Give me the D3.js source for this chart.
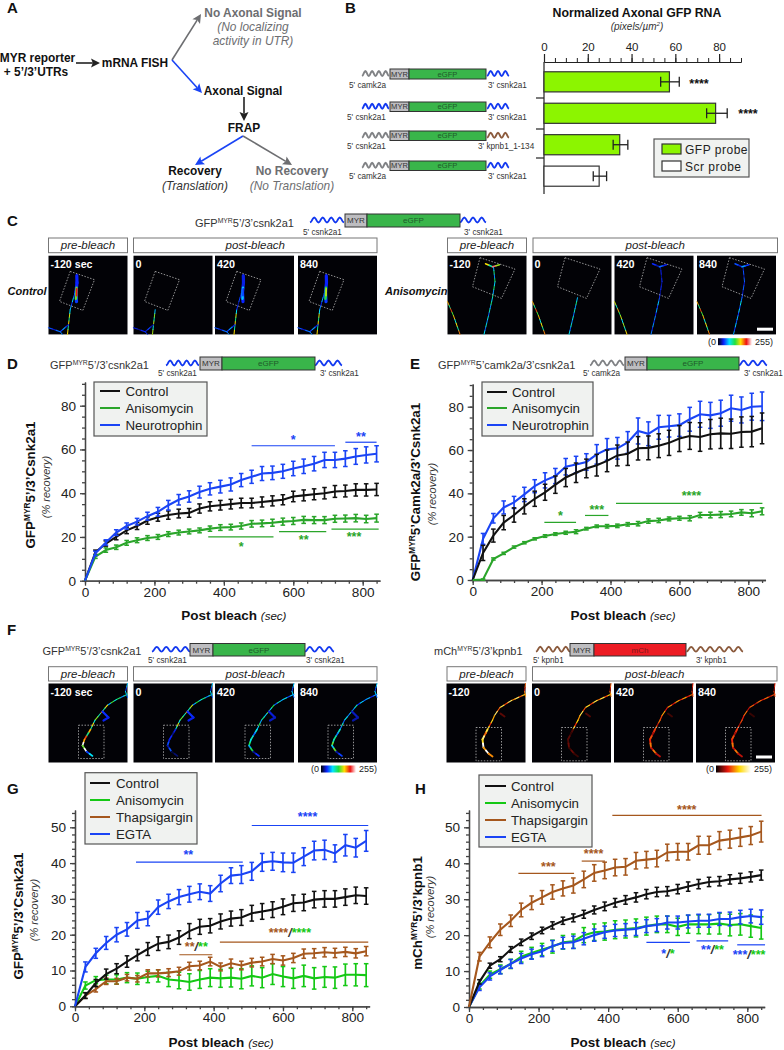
<!DOCTYPE html>
<html><head><meta charset="utf-8">
<script src="https://cdn.jsdelivr.net/npm/d3@7/dist/d3.min.js"></script>
<style>html,body{margin:0;padding:0;background:#fff}svg{display:block;font-family:"Liberation Sans",Arial,sans-serif}</style>
</head><body><svg id="c" width="784" height="1050"></svg>
<script>
// ---------- data ----------
const times=[0,30,60,90,120,150,180,210,240,270,300,330,360,390,420,450,480,510,540,570,600,630,660,690,720,750,780,810,840];
const bCategories=["camk2a/csnk2a1","csnk2a1/csnk2a1","csnk2a1/kpnb1","camk2a/csnk2a1 scr"];
const bValues=[57.3,78.4,34.6,25.2];
const bLow=[53.3,74.3,31.6,22.5];
const bHigh=[61.8,83.7,38.3,28.6];

const D_control=[0,13,17,20,23,25,27.5,29,30,30.7,31,33,34,34.5,35,35.5,35.5,36,36.5,37,38.5,39,39.5,40,40.8,41,41.5,41.5,41.7];
const D_control_err=[0,1,1.2,1.3,1.5,1.6,1.7,1.8,1.9,2,2,2.1,2.1,2.2,2.2,2.2,2.2,2.3,2.3,2.3,2.4,2.5,2.5,2.6,2.7,2.7,2.8,2.8,2.8];
const D_aniso=[0,11,14,15.3,17.3,18.5,19.5,20,21.3,22,22.5,23,23.8,24.3,24.5,25,26,26.2,26.5,27,27.3,27.8,27.7,27.7,28.3,28.4,28.6,28.2,28.6];
const D_aniso_err=[0,.8,1,1,1.1,1.1,1.1,1.1,1.1,1.1,1.1,1.1,1.2,1.3,1.3,1.4,1.5,1.5,1.6,1.6,1.6,1.6,1.6,1.6,1.6,1.6,1.7,1.7,1.8];
const D_neuro=[0,12.5,17.5,22,25,27,29.5,31.5,34.5,37,38.5,40.5,42,43,44,46,47.5,49,49.3,50,51.3,52.3,53.5,55.2,55.2,55.8,56.8,57.5,58];
const D_neuro_err=[0,1,1.2,1.3,1.4,1.5,1.8,2,2.2,2.4,2.6,2.7,2.8,2.9,3,3,3,3.2,3.1,3.2,3.3,3.3,3.3,3.5,3.5,3.6,3.6,3.7,3.7];

const E_control=[0,12.5,20.5,26.5,30,34,37.5,40.5,44,47.3,49.5,51.5,53,55,57.5,58.3,60.8,61,62,63.3,65.3,66.5,66,67.3,67.7,67.5,68.3,68.5,70];
const E_control_err=[0,3.5,3,3.3,3.3,3.5,3.5,3.7,4,4.2,4.5,4.3,5,5,4.8,5.4,5.4,5.5,5.5,5.8,6,6.2,6.6,6.8,7,6.8,7,7,7.1];
const E_aniso=[0,.2,9.7,12.3,15.2,17.2,19,20.3,21.2,21.8,22.3,23.7,24.8,24.8,25,25.7,26,27.2,27.5,28.2,28.5,28.5,30,30,30.2,30.5,31.2,30.8,31.7];
const E_aniso_err=[0,.3,.5,.5,.5,.5,.5,.6,.6,.7,.9,.6,.6,.8,.8,.8,1,1,1,.9,.9,1.2,1.2,1.3,1.4,1.3,1.3,1.6,1.6];
const E_neuro=[0,19,28.5,33.5,35.8,39.5,43.3,46,48,52.3,53.3,54.5,58,60.3,60.8,63.5,68.8,67.5,70.5,71,71.5,74.2,76.5,76,77,79.3,78.5,80,80.2];
const E_neuro_err=[0,2.5,2.2,3,2.8,3.3,3,3.5,3.5,3.8,3.8,3.8,4.5,5,5,5,6,5.5,5.5,5,5.2,5.5,6,6,6,6,6,6.2,6.6];

const G_control=[0,3,6.5,9,10.5,12.5,14.3,16,17.5,18,19.2,21,22.2,22.5,23.7,24.5,24.8,26,26.5,27,27.8,28.8,29,29.8,30,30,30.5,31,30.8];
const G_control_err=[0,.8,1,1.4,1.4,1.6,1.6,1.8,1.9,1.9,1.9,2.1,2.1,2,2.1,2.1,2.2,2.2,2.2,2.2,2.2,2.3,2.3,2.3,2.3,2.3,2.3,2.3,2.3];
const G_aniso=[0,5.8,7.3,7.5,7.5,8,7.7,8.2,8.5,7.5,7.2,6.8,7.5,8,7.8,8,7.7,8.5,8,9,8.3,7.8,8.5,7.8,8.2,8,8.8,8.8,8.7];
const G_aniso_err=[0,1,1,1.2,1.3,1.4,1.6,1.6,1.7,2,2.3,2.3,2.5,2.5,2.5,2.6,2.8,2.8,2.8,2.9,2.8,2.8,3,3,2.9,3,3,3.1,3.2];
const G_thaps=[0,3,4.8,7,7,8,7.7,9.2,9.2,9.4,9.8,11.2,11.4,12.5,11,12,11.4,12.2,12.5,13.2,12.8,13.5,14.7,14.8,15.1,14.9,15.2,14.8,15.4];
const G_thaps_err=[0,.8,.8,.9,.8,.9,.9,1,1,1.1,1.1,1.1,1.2,1.2,1.1,1.2,1.2,1.2,1.2,1.3,1.3,1.3,1.3,1.3,1.3,1.3,1.3,1.3,1.3];
const G_egta=[0,11,14.8,17.7,20,21.5,24,24.5,27.7,29.3,30.5,31.3,32,31.5,34.3,36.5,36.8,37.7,40.2,40.5,40.2,40.1,41.8,43.5,43.7,42.7,45,44.3,46.2];
const G_egta_err=[0,1.4,1.4,1.8,2,1.9,2.2,2,2,2,2.1,2.2,2.2,2.2,2.3,2.2,2.5,2.5,2.5,2.5,2.6,2.7,2.5,2.6,2.7,2.4,3,2.6,2.9];

const H_control=[0,7,11.5,13.3,16,18,19.7,21.3,22.7,24,24.8,25.8,27,28,29,29.8,30.5,31.4,32,32.2,32.8,33.5,34.2,34.8,35,35.5,35.8,36.2,36.7];
const H_control_err=[0,.6,.7,.7,.8,.9,.9,.9,1,1,1.1,1.1,1.1,1.2,1.2,1.2,1.3,1.3,1.3,1.3,1.3,1.3,1.3,1.3,1.3,1.3,1.4,1.4,1.4];
const H_aniso=[0,5.8,9,10.5,12,14,15,16,16.8,18,18.3,20,20.8,21,21.5,21.7,22,22.5,23,23,22.3,23,23,23,23.2,22.8,23,22.5,22];
const H_aniso_err=[0,.8,1,1.2,1.3,1.5,1.6,1.7,1.8,1.9,2,2.1,2.3,2.4,2.5,2.5,2.5,2.5,2.3,2.3,2.4,2.5,2.6,2.7,2.9,3,3,3.1,3.1];
const H_thaps=[0,14,18,21.5,24,27,29,30.5,32,33,33.8,35.5,37.3,38,38.8,39,40.7,41,41.3,43,43.2,43.2,45,45,46.3,46.7,47.2,47.7,48.8];
const H_thaps_err=[0,1.2,1.5,1.6,1.6,1.9,1.9,1.9,2,2.1,2.1,2.3,2.3,2.3,2.3,2.3,2.3,2.3,2.3,2.3,2.3,2.3,2.5,2.5,2.5,2.5,2.5,2.5,2.9];
const H_egta=[0,5.5,8.5,10.3,12,13.5,14.7,15.5,17,17.8,18,19,20,20.8,21.3,21.5,21.7,22.5,22.8,23.5,23.5,23.8,24,24,24.5,24.5,25,25.3,25];
const H_egta_err=[0,.9,1,1.1,1.2,1.4,1.4,1.5,1.5,1.6,1.7,1.7,1.7,1.7,1.7,1.7,1.8,1.8,1.8,1.8,1.8,1.8,1.8,1.8,1.8,1.9,1.9,1.9,2];

const frameLabelsL=["-120 sec","0","420","840"];
const frameLabelsR=["-120","0","420","840"];
// ---------- palette ----------
const BLACK="#111",GREY="#6d6e71",BLUE="#1a44f5",BROWN="#a5571d",GRN1="#2aa52a",GRN2="#14c814";
const WGREY="#808285",WBLUE="#1238f0",WBROWN="#8b5a3c";
const FONT_TXT="#222";
const svg=d3.select("#c");
const defs=svg.append("defs");

function rich(g,x,y,parts,o={}){
  const t=g.append("text").attr("x",x).attr("y",y).attr("font-size",o.size||12)
    .attr("text-anchor",o.anchor||"start").attr("fill",o.fill||FONT_TXT);
  if(o.weight)t.attr("font-weight",o.weight);
  if(o.style)t.attr("font-style",o.style);
  if(o.rotate)t.attr("transform",`rotate(${o.rotate} ${x} ${y})`);
  let pendingDy=0;
  parts.forEach(p=>{
    if(typeof p==="string")p={t:p};
    const s=t.append("tspan").text(p.t);
    if(p.sup){s.attr("font-size",(o.size||12)*.62).attr("dy",-(o.size||12)*.36);pendingDy=(o.size||12)*.36;}
    else if(pendingDy){s.attr("dy",pendingDy);pendingDy=0;}
    if(p.fill)s.attr("fill",p.fill);
    if(p.style)s.attr("font-style",p.style);
    if(p.weight)s.attr("font-weight",p.weight);
  });
  return t;
}
function wave(g,x0,x1,yc,amp,periods,color){
  const n=Math.round(periods*12);
  const xs=d3.scaleLinear().domain([0,n]).range([x0,x1]);
  const pts=d3.range(n+1).map(i=>[xs(i),yc-amp*Math.sin(i/12*2*Math.PI-Math.PI/2)]);
  g.append("path").attr("d",d3.line()(pts)).attr("fill","none").attr("stroke",color).attr("stroke-width",1.8);
}
function construct(g,c){
  const h=c.y1-c.y0,yc=(c.y0+c.y1)/2;
  wave(g,c.wl[0],c.wl[1],yc-0.5,2.4,c.wl[3]||4,c.wl[2]);
  wave(g,c.wr[0],c.wr[1],yc-0.5,2.4,c.wr[3]||3,c.wr[2]);
  g.append("rect").attr("x",c.m0).attr("y",c.y0).attr("width",c.m1-c.m0).attr("height",h).attr("fill","#bdbdc0").attr("stroke","#333").attr("stroke-width",1);
  g.append("rect").attr("x",c.m1).attr("y",c.y0).attr("width",c.e-c.m1).attr("height",h).attr("fill",c.color||"#39b54a").attr("stroke","#333").attr("stroke-width",1);
  const fs=c.fs||8.2;
  g.append("text").attr("x",(c.m0+c.m1)/2).attr("y",yc+fs*.36).attr("text-anchor","middle").attr("font-size",fs).attr("fill","#333").text("MYR");
  g.append("text").attr("x",(c.m1+c.e)/2).attr("y",yc+fs*.36).attr("text-anchor","middle").attr("font-size",fs).attr("fill",c.gfill||"#1f5a2b").text(c.gene||"eGFP");
  g.append("text").attr("x",c.ll[0]).attr("y",c.ly).attr("font-size",c.lfs||8).attr("fill","#333").text(c.ll[1]);
  g.append("text").attr("x",c.lr[0]).attr("y",c.ly).attr("font-size",c.lfs||8).attr("fill","#333").text(c.lr[1]);
}
function letter(t,x,y){svg.append("text").attr("x",x).attr("y",y).attr("font-size",15).attr("font-weight","bold").attr("fill","#111").text(t);}

// ---------- panel letters ----------
letter("A",7,13);letter("B",345,13);letter("C",7,226);letter("D",7,369);letter("E",410,369);letter("F",7,635);letter("G",7,794);letter("H",415,794);

// ---------- A ----------
function arrow(g,x0,y0,x1,y1,color){
  const a=Math.atan2(y1-y0,x1-x0),L=9,W=4.5;
  const bx=x1-L*Math.cos(a)*.8,by=y1-L*Math.sin(a)*.8;
  g.append("line").attr("x1",x0).attr("y1",y0).attr("x2",bx).attr("y2",by).attr("stroke",color).attr("stroke-width",1.6);
  const p=[[x1,y1],[x1-L*Math.cos(a)-W*Math.sin(a),y1-L*Math.sin(a)+W*Math.cos(a)],[bx,by],[x1-L*Math.cos(a)+W*Math.sin(a),y1-L*Math.sin(a)-W*Math.cos(a)]];
  g.append("path").attr("d",d3.line()(p)+"Z").attr("fill",color);
}
{
const g=svg.append("g");
const T=(t,x,y,o={})=>g.append("text").attr("x",x).attr("y",y).attr("font-size",o.s||11.9).attr("text-anchor",o.a||"middle").attr("font-weight",o.i?null:"bold").attr("font-style",o.i?"italic":null).attr("fill",o.f||"#111").text(t);
T("MYR reporter",37.5,61.5);T("+ 5’/3’UTRs",36,76);T("mRNA FISH",135,67);
T("No Axonal Signal",253,17,{f:"#6d6e71"});T("(No localizing",253,31,{i:1,f:"#6d6e71"});T("activity in UTR)",253,45,{i:1,f:"#6d6e71"});
T("Axonal Signal",243,95);T("FRAP",244,132);
T("Recovery",195,175);T("(Translation)",195,190,{i:1,f:"#333"});
T("No Recovery",292,175,{f:"#6d6e71"});T("(No Translation)",292,190,{i:1,f:"#6d6e71"});
arrow(g,76,63,100,63,"#222");arrow(g,172,60,201,14,GREY);arrow(g,172,60,202,93,BLUE);
arrow(g,244,97,244,121,"#222");arrow(g,243,136,195,165,BLUE);arrow(g,243,136,292,165,GREY);
}

// ---------- B ----------
{
const g=svg.append("g");
const x=d3.scaleLinear().domain([0,90]).range([544,741]);
const barY=d3.scaleBand().domain(bCategories).range([68,190]).paddingInner(0.36).paddingOuter(0.12);
g.append("text").attr("x",637).attr("y",17).attr("text-anchor","middle").attr("font-weight","bold").attr("font-size",12.3).attr("fill","#111").text("Normalized Axonal GFP RNA");
rich(g,637,30,[{t:"(pixels/µm"},{t:"2",sup:1},{t:")"}],{anchor:"middle",style:"italic",size:10,fill:"#333"});
const axT=g.append("g").attr("transform","translate(0,62)").call(d3.axisTop(x).tickValues([0,20,40,60,80]).tickSize(8).tickSizeOuter(0).tickPadding(3));
axT.selectAll("text").attr("font-size",11.5).attr("font-family","inherit").attr("fill","#222");
axT.selectAll("path,line").attr("stroke","#222").attr("stroke-width",1.2);
const axM=g.append("g").attr("transform","translate(0,62)").call(d3.axisTop(x).tickValues(d3.range(0,91,5)).tickSize(4).tickFormat("").tickSizeOuter(0));
axM.selectAll("path,line").attr("stroke","#222").attr("stroke-width",1);
g.append("line").attr("x1",544).attr("x2",544).attr("y1",62).attr("y2",194).attr("stroke","#222").attr("stroke-width",1.2);
[98,129,158].forEach(v=>g.append("line").attr("x1",536).attr("x2",544).attr("y1",v).attr("y2",v).attr("stroke","#222").attr("stroke-width",1.2));
g.selectAll("rect.b").data(bCategories).join("rect").attr("class","b")
 .attr("x",x(0)).attr("y",d=>barY(d)).attr("height",barY.bandwidth())
 .attr("width",(d,i)=>x(bValues[i])-x(0)).attr("fill",(d,i)=>i<3?"#8cf500":"#fff").attr("stroke","#333").attr("stroke-width",1.2);
bCategories.forEach((c,i)=>{
  const yc=barY(c)+barY.bandwidth()/2;
  g.append("line").attr("x1",x(bLow[i])).attr("x2",x(bHigh[i])).attr("y1",yc).attr("y2",yc).attr("stroke","#222").attr("stroke-width",1.3);
  [bLow[i],bHigh[i]].forEach(v=>g.append("line").attr("x1",x(v)).attr("x2",x(v)).attr("y1",yc-5).attr("y2",yc+5).attr("stroke","#222").attr("stroke-width",1.3));
});
g.append("text").attr("x",699).attr("y",88).attr("text-anchor","middle").attr("font-size",12.5).attr("font-weight","bold").attr("fill","#111").text("****");
g.append("text").attr("x",748).attr("y",118).attr("text-anchor","middle").attr("font-size",12.5).attr("font-weight","bold").attr("fill","#111").text("****");
g.append("rect").attr("x",654).attr("y",139).attr("width",95).attr("height",38).attr("fill","#f0f2f0").attr("stroke","#555").attr("stroke-width",1.2);
[["GFP probe","#8cf500",144],["Scr probe","#fff",161]].forEach(r=>{
  g.append("rect").attr("x",662).attr("y",r[2]).attr("width",19).attr("height",10).attr("fill",r[1]).attr("stroke","#333").attr("stroke-width",1.2);
  g.append("text").attr("x",685).attr("y",r[2]+9.5).attr("font-size",12).attr("letter-spacing",.5).attr("fill","#222").text(r[0]);
});
const rows=[[69,79,WGREY,WBLUE,"5' camk2a",349,"3' csnk2a1",488],[102,111.5,WBLUE,WBLUE,"5' csnk2a1",347,"3' csnk2a1",488],[131,140.5,WGREY,WBROWN,"5' csnk2a1",347,"3' kpnb1_1-134",478],[161,170.5,WGREY,WBLUE,"5' camk2a",349,"3' csnk2a1",488]];
rows.forEach(r=>construct(g,{y0:r[0],y1:r[1],wl:[362,389,r[2],4],wr:[487,509,r[3],3],m0:390,m1:409,e:486,ll:[r[5],r[4]],lr:[r[7],r[6]],ly:r[1]+8.5,lfs:8.2,fs:7.6}));
}

// ---------- micrographs ----------
const hotC=d3.scaleLinear().domain([0,.33,.66,1]).range(["#000","#e8160c","#ffd800","#fff"]);
const jetC=d3.scaleLinear().domain([0,.16,.33,.5,.66,.83,1]).range(["#000","#0a22ff","#00e5ff","#20e040","#ffe000","#f01010","#fff"]);
const speckle=[1,.62,1.12,.74,1.05,.55];
const roiPolyCtl=[[21.7,15.7],[46,24],[34.3,54.7],[11,45.7]];
const roiPolyAni=[[32.5,2],[67.5,13.3],[54,42.7],[25,31]];
const roiRectFL=[[30,41.7],[55.5,41.7],[55.5,75],[30,75]];
const roiRectFR=[[29.5,44],[55,44],[55,77.3],[29.5,77.3]];
// axon traces inside image coordinates: points, brightness, width, frame gains
const tracesCtl=[
 {p:[[19,78.7],[20,69],[21.7,54]],v:[.66,.6],w:1,g:[1,.9,1,1]},
 {p:[[0,72],[11.7,76],[20,69]],v:[.2,.25],w:1.2,g:[1,.7,1,1]},
 {p:[[11.7,76],[14,78.7]],v:[.25],w:1,g:[1,.7,1,1]},
 {p:[[21.7,54],[25,42],[27.5,34]],v:[.28,.3],w:1,g:[1,0,.6,.9]},
 {p:[[28,46],[27.5,36],[28.5,27],[28.3,20]],v:[.18,.16,.16],w:3.2,plain:1,g:[1,0,.9,1]},
 {p:[[27.5,43],[28,32]],v:[.55],w:2.4,plain:1,g:[1,0,.55,.9]},
 {p:[[28,40],[28.2,33]],v:[.83],w:1.6,plain:1,g:[1,0,.2,.75]}];
const tracesAni=[
 {p:[[36.5,78.7],[41,60],[45,42]],v:[.34,.4],w:1,g:[1,1,.7,.8]},
 {p:[[45,42],[47.5,26],[46,11]],v:[.42,.45],w:1,g:[1,0,.35,.45]},
 {p:[[38,8],[45,11],[52,9]],v:[.66,.8],w:1.5,g:[1,0,.25,.3]},
 {p:[[0,46],[6,60],[12.5,78.7]],v:[.7,.66],w:1,g:[1,1,.9,1]}];
const tracesFL=[
 {p:[[79,10.7],[68,16],[59,21.7],[52,30],[46.5,36.7],[42,46]],v:[.42,.5,.66,.55,.66],w:1.1,g:[1,.95,.75,.6]},
 {p:[[42,46],[36,56],[34,62],[38,68],[44,72.5]],v:[.7,.95,1,.3],w:1.6,g:[1,.2,.5,.55]},
 {p:[[54,28],[60,34],[55,37]],v:[.17,.15],w:2.2,plain:1,g:[1,1,.8,.7]},
 {p:[[79,0],[77,8],[79,14]],v:[.3,.3],w:1,g:[1,1,1,1]}];
const tracesFR=[
 {p:[[79,10.7],[65,17],[53.5,24],[48,32],[46,36.7],[41,46]],v:[.7,.75,.72,.78,.66],w:1.2,g:[1,.95,.7,.6]},
 {p:[[41,46],[36,56],[37,64],[42,70],[46,73]],v:[.75,.95,1,.85],w:1.9,g:[1,.15,.5,.5]},
 {p:[[79,0],[78,8],[79,13]],v:[.45,.45],w:1,g:[1,1,.8,.8]},
 {p:[[54,30],[58,33]],v:[.13],w:2,plain:1,g:[1,.9,.7,.6]}];
function image(g,x,y,w,h,traces,roi,cs,label,idx,scalebar){
  g.append("rect").attr("x",x).attr("y",y).attr("width",w).attr("height",h).attr("fill","#020206");
  const ig=g.append("g").attr("transform",`translate(${x},${y})`);
  traces.forEach(t=>{
    const gain=t.g[idx];
    if(gain===0)return;
    let k=0;
    for(let i=0;i<t.p.length-1;i++){
      const a=t.p[i],b=t.p[i+1],n=t.plain?1:Math.max(1,Math.round(Math.hypot(b[0]-a[0],b[1]-a[1])/4));
      for(let j=0;j<n;j++){
        const mul=t.plain?1:speckle[k++%speckle.length];
        ig.append("line").attr("x1",a[0]+(b[0]-a[0])*j/n).attr("y1",a[1]+(b[1]-a[1])*j/n)
          .attr("x2",a[0]+(b[0]-a[0])*(j+1)/n).attr("y2",a[1]+(b[1]-a[1])*(j+1)/n)
          .attr("stroke",cs(Math.min(1,t.v[i]*gain*mul))).attr("stroke-width",t.w).attr("stroke-linecap","round");
      }
    }
  });
  ig.append("path").attr("d",d3.line()(roi)+"Z").attr("fill","none").attr("stroke","#b8b8b8").attr("stroke-width",.8).attr("stroke-dasharray","1.5,1.5");
  ig.append("text").attr("x",2).attr("y",12).attr("font-size",11).attr("font-weight","bold").attr("fill","#fff").attr("textLength",label.length>3?(label.length>5?42:21):(label.length===3?18:6)).attr("lengthAdjust","spacingAndGlyphs").text(label);
  if(scalebar)ig.append("rect").attr("x",60).attr("y",72).attr("width",16).attr("height",3).attr("fill","#fff");
}
function labelBox(g,x0,x1,y0,y1,t){
  g.append("rect").attr("x",x0).attr("y",y0).attr("width",x1-x0).attr("height",y1-y0).attr("fill","#fff").attr("stroke","#777").attr("stroke-width",1);
  g.append("text").attr("x",(x0+x1)/2).attr("y",y1-3.5).attr("text-anchor","middle").attr("font-size",11.5).attr("font-style","italic").attr("fill","#222").text(t);
}
function colorbar(g,id,stops,x0,x1,y){
  const lg=defs.append("linearGradient").attr("id",id);
  stops.forEach((c,i)=>lg.append("stop").attr("offset",i/(stops.length-1)).attr("stop-color",c));
  g.append("rect").attr("x",x0).attr("y",y-3.5).attr("width",x1-x0).attr("height",7).attr("fill",`url(#${id})`);
  g.append("text").attr("x",x0-2).attr("y",y+3).attr("text-anchor","end").attr("font-size",9).attr("fill","#222").text("(0");
  g.append("text").attr("x",x1+3).attr("y",y+3).attr("font-size",9).attr("fill","#222").text("255)");
}
const XL=[48.5,133.5,215,298];
{ // C
const g=svg.append("g");
rich(g,195,227,["GFP",{t:"MYR",sup:1},"5’/3’csnk2a1"],{size:11,fill:"#333"});
construct(g,{y0:214,y1:227,wl:[310,344,WBLUE,4],wr:[460,486,WBLUE,3],m0:345,m1:367,e:460,ll:[303,"5' csnk2a1"],lr:[464,"3' csnk2a1"],ly:235,lfs:8.2,fs:8});
labelBox(g,48.5,127.5,238,252.7,"pre-bleach");labelBox(g,133.5,377,238,252.7,"post-bleach");
labelBox(g,447.5,526.5,238,252.7,"pre-bleach");labelBox(g,533,777.5,238,252.7,"post-bleach");
XL.forEach((x,i)=>image(g,x,255.7,79,78.7,tracesCtl,roiPolyCtl,jetC,frameLabelsL[i],i));
[447.5,532.5,614.5,697].forEach((x,i)=>image(g,x,255.7,79,78.7,tracesAni,roiPolyAni,jetC,frameLabelsR[i],i,i===3));
g.append("text").attr("x",7.5).attr("y",295).attr("font-size",11).attr("font-weight","bold").attr("font-style","italic").attr("fill","#111").text("Control");
g.append("text").attr("x",385).attr("y",295).attr("font-size",11).attr("font-weight","bold").attr("font-style","italic").attr("fill","#111").text("Anisomycin");
colorbar(g,"jet1",["#000","#0a22ff","#00e5ff","#20e040","#ffe000","#f01010","#fff"],718,752,341.7);
}
{ // F
const g=svg.append("g");
rich(g,42.5,655,["GFP",{t:"MYR",sup:1},"5’/3’csnk2a1"],{size:11,fill:"#333"});
construct(g,{y0:643.5,y1:656,wl:[152,190,WBLUE,4],wr:[305,334,WBLUE,3],m0:190,m1:213,e:305,ll:[148,"5' csnk2a1"],lr:[306,"3' csnk2a1"],ly:663,lfs:8.2,fs:8});
rich(g,434,655,["mCh",{t:"MYR",sup:1},"5’/3’kpnb1"],{size:11,fill:"#333"});
construct(g,{y0:643.5,y1:656,wl:[536,570,WBROWN,4],wr:[686.5,743,WBROWN,6],m0:570,m1:594,e:686,color:"#ed1c24",gene:"mCh",gfill:"#7a1a1a",ll:[533,"5' kpnb1"],lr:[696,"3' kpnb1"],ly:663,lfs:8.2,fs:8});
labelBox(g,48.5,127.5,666.7,681,"pre-bleach");labelBox(g,133.5,377,666.7,681,"post-bleach");
labelBox(g,447,526,666.7,681,"pre-bleach");labelBox(g,532.5,777,666.7,681,"post-bleach");
XL.forEach((x,i)=>image(g,x,683.5,79,79,tracesFL,roiRectFL,jetC,frameLabelsL[i],i));
[446.5,532,614,696].forEach((x,i)=>image(g,x,683.5,79,79,tracesFR,roiRectFR,hotC,frameLabelsR[i],i,i===3));
colorbar(g,"jet2",["#000","#0a22ff","#00e5ff","#20e040","#ffe000","#f01010","#fff"],321,356,769);
colorbar(g,"hot",["#000","#e8160c","#ffd800","#fff"],716,751,769);
}
// ---------- constructs D, E ----------
{
const g=svg.append("g");
rich(g,50,369,["GFP",{t:"MYR",sup:1},"5’/3’csnk2a1"],{size:11,fill:"#333"});
construct(g,{y0:357,y1:370,wl:[166,199,WBLUE,4],wr:[315,342,WBLUE,3],m0:200,m1:222,e:315,ll:[158,"5' csnk2a1"],lr:[320,"3' csnk2a1"],ly:375.5,lfs:8.2,fs:8});
rich(g,438,369,["GFP",{t:"MYR",sup:1},"5’camk2a/3’csnk2a1"],{size:11,fill:"#333"});
construct(g,{y0:357,y1:370,wl:[590,624,WGREY,4],wr:[739,767,WBLUE,3],m0:625,m1:647,e:739,ll:[583,"5' camk2a"],lr:[744,"3' csnk2a1"],ly:375.5,lfs:8.2,fs:8});
}
// ---------- line panels ----------
function linePanel(c){
  const g=svg.append("g");
  const x=d3.scaleLinear().domain([0,800]).range([c.x0,c.x800]);
  const y=d3.scaleLinear().domain([0,c.yTickMax]).range([c.y0,c.yMaxPx]);
  const yTop=c.yTop,xEnd=x(850);
  const xx=x.copy().domain([0,850]).range([c.x0,xEnd]);
  const ax=g.append("g").attr("transform",`translate(0,${c.y0})`).call(d3.axisBottom(xx).tickValues([0,200,400,600,800]).tickSize(5).tickSizeOuter(0).tickPadding(1.5));
  const am=g.append("g").attr("transform",`translate(0,${c.y0})`).call(d3.axisBottom(xx).tickValues(d3.range(0,850,40)).tickSize(3).tickFormat("").tickSizeOuter(0));
  const yy=y.copy().domain([0,y.invert(yTop)]).range([c.y0,yTop]);
  const ay=g.append("g").attr("transform",`translate(${c.x0},0)`).call(d3.axisLeft(yy).tickValues(c.yTicks).tickSize(5).tickSizeOuter(0).tickPadding(4));
  const aym=g.append("g").attr("transform",`translate(${c.x0},0)`).call(d3.axisLeft(yy).tickValues(d3.range(0,y.invert(yTop),c.yMinor)).tickSize(3).tickFormat("").tickSizeOuter(0));
  [ax,am,ay,aym].forEach(a=>{a.selectAll("path,line").attr("stroke","#444").attr("stroke-width",1.3);a.selectAll("text").attr("font-size",13.6).attr("font-family","inherit").attr("fill","#222");});
  const ln=d3.line().x((d,i)=>x(times[i])).y(d=>y(d));
  c.series.forEach(s=>{
    const sg=g.append("g");
    s.v.forEach((v,i)=>{
      if(i===0)return;
      const e=s.e[i],X=x(times[i]);
      sg.append("line").attr("x1",X).attr("x2",X).attr("y1",y(v-e)).attr("y2",y(v+e)).attr("stroke",s.c).attr("stroke-width",1.7);
      [v-e,v+e].forEach(w=>sg.append("line").attr("x1",X-2.3).attr("x2",X+2.3).attr("y1",y(w)).attr("y2",y(w)).attr("stroke",s.c).attr("stroke-width",1.5));
    });
    sg.append("path").attr("d",ln(s.v)).attr("fill","none").attr("stroke",s.c).attr("stroke-width",2.1);
  });
  c.bars.forEach(b=>{
    g.append("line").attr("x1",x(b.a)).attr("x2",x(b.b)).attr("y1",y(b.y)).attr("y2",y(b.y)).attr("stroke",b.c).attr("stroke-width",1.2);
    const tx=x(b.tx!==undefined?b.tx:(b.a+b.b)/2);
    rich(g,tx,y(b.ty)+4.5,b.parts,{anchor:"middle",size:12.5,weight:"bold"});
  });
  // legend
  const l=c.legend;
  g.append("rect").attr("x",l.x0).attr("y",l.y0).attr("width",l.x1-l.x0).attr("height",l.y1-l.y0).attr("fill","#f0f2f0").attr("stroke","#555").attr("stroke-width",1.2);
  l.items.forEach((it,i)=>{
    const ly=l.rows[i];
    g.append("line").attr("x1",l.lx0).attr("x2",l.lx1).attr("y1",ly).attr("y2",ly).attr("stroke",it[1]).attr("stroke-width",2);
    g.append("text").attr("x",l.tx).attr("y",ly+4.8).attr("font-size",13.3).attr("fill","#222").text(it[0]);
  });
  // labels
  g.append("text").attr("x",(x(0)+x(800))/2+c.xLabelDx).attr("y",c.xLabelY).attr("text-anchor","middle").attr("font-size",13.5).attr("font-weight","bold").attr("fill","#111")
    .call(t=>{t.append("tspan").text("Post bleach ");t.append("tspan").attr("font-weight","normal").attr("font-style","italic").attr("font-size",11.5).text("(sec)");});
  rich(g,c.ylx,c.lyc,c.ylabel,{anchor:"middle",rotate:-90,weight:"bold",size:13.4,fill:"#111"});
  g.append("text").attr("x",c.ylx2).attr("y",c.lyc2).attr("transform",`rotate(-90 ${c.ylx2} ${c.lyc2})`).attr("text-anchor","middle").attr("font-size",11).attr("font-style","italic").attr("fill","#333").text("(% recovery)");
}
const S=(n,f)=>({t:n,fill:f});
const SL={t:"/",fill:"#333",style:"italic"};
linePanel({x0:85,x800:362.7,y0:580.7,yMaxPx:405.7,yTickMax:80,yTop:382,yTicks:[0,20,40,60,80],yMinor:5,
 series:[{v:D_control,e:D_control_err,c:BLACK},{v:D_aniso,e:D_aniso_err,c:GRN1},{v:D_neuro,e:D_neuro_err,c:BLUE}],
 bars:[{a:480,b:720,y:61.7,ty:64.5,tx:600,c:BLUE,parts:[S("*",BLUE)]},{a:750,b:840,y:63.3,ty:66,c:BLUE,parts:[S("**",BLUE)]},
  {a:355,b:543,y:20,ty:15.7,tx:450,c:GRN1,parts:[S("*",GRN1)]},{a:559,b:695,y:22.4,ty:19,tx:630,c:GRN1,parts:[S("**",GRN1)]},{a:710,b:846,y:23.6,ty:20,tx:775,c:GRN1,parts:[S("***",GRN1)]}],
 legend:{x0:94,x1:207,y0:382,y1:436,lx0:100,lx1:120,tx:125.5,rows:[391,408,425],items:[["Control",BLACK],["Anisomycin",GRN1],["Neurotrophin",BLUE]]},
 xLabelY:620,xLabelDx:10,ylx:35,ylx2:50,lyc:485,lyc2:487,ylabel:["GFP",{t:"MYR",sup:1},"5’/3’Csnk2a1"]});
linePanel({x0:472.7,x800:748.3,y0:580,yMaxPx:406.7,yTickMax:80,yTop:384,yTicks:[0,20,40,60,80],yMinor:5,
 series:[{v:E_neuro,e:E_neuro_err,c:BLUE},{v:E_control,e:E_control_err,c:BLACK},{v:E_aniso,e:E_aniso_err,c:GRN1}],
 bars:[{a:208,b:300,y:26.6,ty:29.6,tx:255,c:GRN1,parts:[S("*",GRN1)]},{a:326,b:394,y:29.8,ty:32.6,tx:360,c:GRN1,parts:[S("***",GRN1)]},{a:416,b:841,y:35.4,ty:38.8,tx:635,c:GRN1,parts:[S("****",GRN1)]}],
 legend:{x0:482,x1:593,y0:382,y1:436,lx0:487,lx1:507,tx:512,rows:[392,408,425],items:[["Control",BLACK],["Anisomycin",GRN1],["Neurotrophin",BLUE]]},
 xLabelY:620,xLabelDx:12.5,ylx:420,ylx2:436,lyc:492,lyc2:494,ylabel:["GFP",{t:"MYR",sup:1},"5’Camk2a/3’Csnk2a1"]});
linePanel({x0:75,x800:352.3,y0:1006.3,yMaxPx:827.3,yTickMax:50,yTop:810,yTicks:[0,10,20,30,40,50],yMinor:2,
 series:[{v:G_aniso,e:G_aniso_err,c:GRN2},{v:G_thaps,e:G_thaps_err,c:BROWN},{v:G_control,e:G_control_err,c:BLACK},{v:G_egta,e:G_egta_err,c:BLUE}],
 bars:[{a:176,b:484,y:40.3,ty:42.3,tx:327,c:BLUE,parts:[S("**",BLUE)]},{a:510,b:846,y:50.5,ty:53,tx:671,c:BLUE,parts:[S("****",BLUE)]},
  {a:301,b:396,y:14.4,ty:16.6,tx:350,c:BROWN,parts:[S("**",BROWN),SL,S("**",GRN2)]},{a:418,b:846,y:17.9,ty:20.7,tx:620,c:BROWN,parts:[S("****",BROWN),SL,S("****",GRN2)]}],
 legend:{x0:85,x1:197,y0:772.7,y1:844,lx0:90,lx1:110,tx:116,rows:[783,800,817,834],items:[["Control",BLACK],["Anisomycin",GRN2],["Thapsigargin",BROWN],["EGTA",BLUE]]},
 xLabelY:1047,xLabelDx:7.5,ylx:23,ylx2:38,lyc:916,lyc2:910,ylabel:["GFP",{t:"MYR",sup:1},"5’/3’Csnk2a1"]});
linePanel({x0:469,x800:747.3,y0:1007,yMaxPx:827.3,yTickMax:50,yTop:810,yTicks:[0,10,20,30,40,50],yMinor:2,
 series:[{v:H_aniso,e:H_aniso_err,c:GRN2},{v:H_egta,e:H_egta_err,c:BLUE},{v:H_control,e:H_control_err,c:BLACK},{v:H_thaps,e:H_thaps_err,c:BROWN}],
 bars:[{a:142,b:302,y:37.2,ty:39.2,tx:228,c:BROWN,parts:[S("***",BROWN)]},{a:324,b:391,y:40.6,ty:42.6,tx:358,c:BROWN,parts:[S("****",BROWN)]},{a:412,b:841,y:53.3,ty:55,tx:626,c:BROWN,parts:[S("****",BROWN)]},
  {a:510,b:635,y:18,ty:14.8,tx:572,c:BLUE,parts:[S("*",BLUE),SL,S("*",GRN2)]},{a:654,b:745,y:18.4,ty:16.0,tx:700,c:BLUE,parts:[S("**",BLUE),SL,S("**",GRN2)]},{a:771,b:851,y:17.3,ty:14.6,tx:805,c:BLUE,parts:[S("***",BLUE),SL,S("***",GRN2)]}],
 legend:{x0:479,x1:592,y0:775,y1:847,lx0:485,lx1:506,tx:511,rows:[786,803,820,837],items:[["Control",BLACK],["Anisomycin",GRN2],["Thapsigargin",BROWN],["EGTA",BLUE]]},
 xLabelY:1047,xLabelDx:15,ylx:422,ylx2:434,lyc:913,lyc2:907,ylabel:["mCh",{t:"MYR",sup:1},"5’/3’kpnb1"]});
</script></body></html>
